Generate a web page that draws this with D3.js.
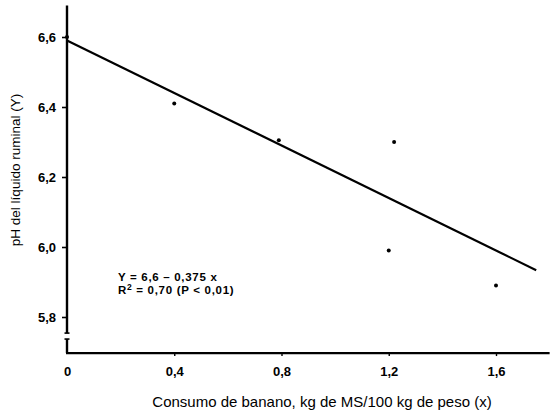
<!DOCTYPE html>
<html>
<head>
<meta charset="utf-8">
<script src="https://cdn.jsdelivr.net/npm/d3@7"></script>
<style>
  html, body { margin: 0; padding: 0; background: #fff; }
  svg { display: block; }
  text { font-family: "Liberation Sans", Arial, Helvetica, sans-serif; fill: #000; }
</style>
</head>
<body>
<svg id="chart" width="559" height="416"></svg>
<script>
// ---- data ----
const consumo = [0, 0.4, 0.79, 1.22, 1.2, 1.6];          // x values (kg MS/100 kg peso)
const phRuminal = [6.6, 6.41, 6.305, 6.3, 5.99, 5.89];   // y values (pH)
const xTicks = [0, 0.4, 0.8, 1.2, 1.6];
const yTicks = [5.8, 6.0, 6.2, 6.4, 6.6];
const regIntercept = [6.59];
const regSlope = [-0.375];
const regXRange = [0, 1.75];
const xTitle = "Consumo de banano, kg de MS/100 kg de peso (x)";
const yTitle = "pH del líquido ruminal (Y)";
const eqLine1 = "Y = 6,6 \u2013 0,375 x";
const eqLine2 = ["R", "2", " = 0,70 (P < 0,01)"];

// ---- scales ----
const svg = d3.select("#chart");
const x = d3.scaleLinear().domain([0, 1.6]).range([67, 496]);
const y = d3.scaleLinear().domain([5.8, 6.6]).range([317, 37]);
const fmt = d => d3.format(".1f")(d).replace(".", ",");
const fmtX = d => d === 0 ? "0" : fmt(d);

// axis extents (with break on y axis)
const yTopVal = 6.69, yBreakUpper = 5.754, yBreakLower = 5.737, yBottomVal = 5.697;
const xEndVal = 1.80;

// ---- y axis (ticks + labels) ----
const yAxis = d3.axisLeft(y).tickValues(yTicks).tickSize(5).tickPadding(6).tickFormat(fmt);
const gy = svg.append("g").attr("transform", `translate(${x(0)},0)`).call(yAxis);
gy.select(".domain").remove();
gy.selectAll(".tick line").attr("stroke", "#000").attr("stroke-width", 1.6);
gy.selectAll(".tick text")
  .style("font-size", "13px").style("font-weight", "bold")
  .style("font-family", "'Liberation Sans', Arial, sans-serif");

// ---- x axis (ticks + labels) ----
const xAxis = d3.axisBottom(x).tickValues(xTicks).tickSize(3).tickPadding(11).tickFormat(fmtX);
const gx = svg.append("g").attr("transform", `translate(0,${y(yBottomVal)})`).call(xAxis);
gx.select(".domain").remove();
gx.selectAll(".tick line").attr("stroke", "#000").attr("stroke-width", 1.4)
  .filter(d => d === 0).remove();
gx.selectAll(".tick text")
  .style("font-size", "13px").style("font-weight", "bold")
  .style("font-family", "'Liberation Sans', Arial, sans-serif");

// ---- axis lines ----
const axisG = svg.append("g").attr("stroke", "#000").attr("fill", "none");
// y axis upper segment
axisG.append("line").attr("x1", x(0)).attr("x2", x(0))
  .attr("y1", y(yTopVal)).attr("y2", y(yBreakUpper)).attr("stroke-width", 2.4);
axisG.append("line").attr("x1", x(0) - 2.5).attr("x2", x(0) + 2.5)
  .attr("y1", y(yBreakUpper)).attr("y2", y(yBreakUpper)).attr("stroke-width", 1.6);
// y axis lower segment
axisG.append("line").attr("x1", x(0)).attr("x2", x(0))
  .attr("y1", y(yBreakLower)).attr("y2", y(yBottomVal)).attr("stroke-width", 2.4);
axisG.append("line").attr("x1", x(0) - 2.5).attr("x2", x(0) + 2.5)
  .attr("y1", y(yBreakLower)).attr("y2", y(yBreakLower)).attr("stroke-width", 1.6);
// x axis
axisG.append("line").attr("x1", x(0) - 1).attr("x2", x(xEndVal))
  .attr("y1", y(yBottomVal)).attr("y2", y(yBottomVal)).attr("stroke-width", 2.2);

// ---- regression line ----
svg.append("line")
  .attr("x1", x(regXRange[0])).attr("y1", y(regIntercept[0] + regSlope[0] * regXRange[0]))
  .attr("x2", x(regXRange[1])).attr("y2", y(regIntercept[0] + regSlope[0] * regXRange[1]))
  .attr("stroke", "#000").attr("stroke-width", 2.2);

// ---- points ----
svg.append("g").selectAll("circle")
  .data(consumo.map((c, i) => ({ c, p: phRuminal[i] })))
  .join("circle")
  .attr("cx", d => x(d.c)).attr("cy", d => y(d.p)).attr("r", 2)
  .attr("fill", "#000");

// ---- equation annotation ----
const eq = svg.append("g").style("font-size", "11.5px").style("font-weight", "bold")
  .style("letter-spacing", "0.7px");
eq.append("text").attr("x", x(0.19)).attr("y", y(5.903)).text(eqLine1);
const t2 = eq.append("text").attr("x", x(0.19)).attr("y", y(5.867));
t2.append("tspan").text(eqLine2[0]);
t2.append("tspan").attr("dy", -4).style("font-size", "8.5px").text(eqLine2[1]);
t2.append("tspan").attr("dy", 4).text(eqLine2[2]);

// ---- axis titles ----
svg.append("text")
  .attr("x", 322).attr("y", 407)
  .attr("text-anchor", "middle").style("font-size", "15px")
  .text(xTitle);
svg.append("text")
  .attr("transform", `translate(20,${y(6.22)}) rotate(-90)`)
  .attr("text-anchor", "middle").style("font-size", "13.5px")
  .text(yTitle);
</script>
</body>
</html>
